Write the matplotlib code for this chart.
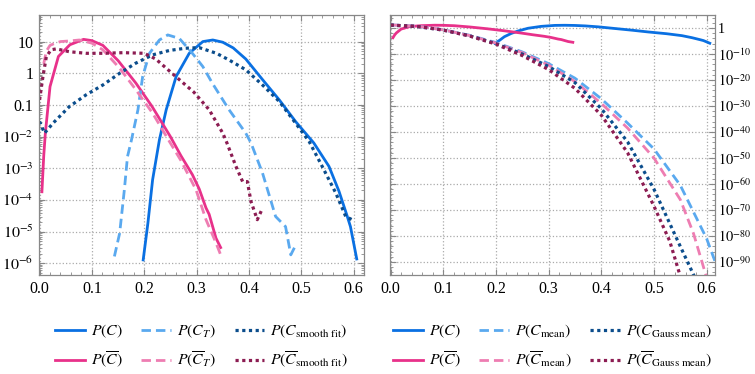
import numpy as np
import matplotlib
matplotlib.use("Agg")
import matplotlib.pyplot as plt
from matplotlib.ticker import FixedLocator, FuncFormatter, MultipleLocator

plt.rcParams['font.family'] = ['Liberation Serif', 'DejaVu Serif']
plt.rcParams['mathtext.fontset'] = 'stix'
plt.rcParams['font.size'] = 11

### Data (x, log10 of probability density) ###

# left panel
pc_x = [0.198, 0.207, 0.216, 0.229, 0.242, 0.261, 0.286, 0.312, 0.331, 0.35, 0.37, 0.394, 0.426,
        0.458, 0.489, 0.524, 0.553, 0.572, 0.588, 0.594, 0.606]
pc_log = [-5.89, -4.73, -3.36, -2.1, -1.15, -0.1, 0.63, 1.0, 1.05, 0.98, 0.8, 0.45, -0.2,
          -0.84, -1.52, -2.2, -2.94, -3.72, -4.52, -4.84, -5.86]

pct_x = [0.143, 0.153, 0.162, 0.168, 0.175, 0.188, 0.197, 0.21, 0.229, 0.245, 0.267, 0.292,
         0.312, 0.33, 0.362, 0.394, 0.404, 0.426, 0.451, 0.47, 0.48, 0.488]
pct_log = [-5.78, -5.05, -3.68, -2.63, -2.15, -1.15, -0.1, 0.63, 1.05, 1.21, 1.1, 0.63,
           0.21, -0.31, -1.15, -1.89, -2.2, -3.15, -4.52, -4.84, -5.73, -5.47]

psm_x = [0.0, 0.0095, 0.026, 0.057, 0.089, 0.121, 0.153, 0.184, 0.216, 0.248, 0.279, 0.305,
         0.338, 0.362, 0.394, 0.426, 0.458, 0.489, 0.515, 0.54, 0.566, 0.585, 0.597]
psm_log = [-1.52, -1.89, -1.57, -1.05, -0.68, -0.37, 0.0, 0.32, 0.58, 0.72, 0.79, 0.81,
           0.63, 0.42, 0.11, -0.37, -0.89, -1.57, -2.15, -2.94, -3.78, -4.52, -4.62]

pcb_x = [0.0045, 0.008, 0.011, 0.02, 0.036, 0.058, 0.084, 0.1, 0.121, 0.15, 0.184, 0.215,
         0.25, 0.27, 0.292, 0.305, 0.318, 0.324, 0.337, 0.346]
pcb_log = [-3.74, -2.6, -1.9, -0.42, 0.53, 0.9, 1.07, 1.03, 0.88, 0.4, -0.31, -1.05,
           -2.0, -2.6, -3.2, -3.65, -4.25, -4.45, -5.2, -5.5]

pcbt_x = [0.008, 0.013, 0.02, 0.03, 0.04, 0.057, 0.076, 0.1, 0.121, 0.153, 0.184, 0.216,
          0.248, 0.27, 0.299, 0.318, 0.337, 0.346]
pcbt_log = [0.3, 0.7, 0.88, 0.95, 1.0, 1.02, 1.05, 0.95, 0.74, 0.16, -0.52, -1.26,
            -2.15, -2.75, -3.68, -4.62, -5.35, -5.73]

psmb_x = [0.0, 0.0065, 0.013, 0.022, 0.032, 0.057, 0.089, 0.121, 0.16, 0.2, 0.222, 0.26,
          0.295, 0.324, 0.35, 0.358, 0.375, 0.388, 0.397, 0.404, 0.416, 0.426]
psmb_log = [-0.84, -0.1, 0.53, 0.74, 0.77, 0.68, 0.63, 0.63, 0.65, 0.63, 0.45, -0.1,
            -0.6, -1.15, -1.89, -2.2, -2.93, -3.42, -3.42, -4.05, -4.62, -4.26]

# right panel
mean_x = [0.0, 0.05, 0.1, 0.15, 0.2, 0.25, 0.3, 0.35, 0.4, 0.45, 0.5, 0.55, 0.6, 0.62]
pmean_log = [1.2, 0.7, -0.7, -2.8, -5.6, -9.2, -13.7, -19.3, -27.2, -36.6, -46.5, -60.5, -81, -92]

pmeanb_x = [0.0, 0.05, 0.1, 0.15, 0.2, 0.25, 0.3, 0.35, 0.4, 0.45, 0.5, 0.55, 0.575, 0.6]
pmeanb_log = [1.2, 0.7, -0.7, -2.9, -5.8, -9.5, -14.3, -20.6, -29, -38.5, -50, -66, -79, -96]

gauss_x = [0.0, 0.05, 0.1, 0.15, 0.2, 0.25, 0.3, 0.35, 0.4, 0.45, 0.5, 0.55, 0.58]
pgauss_log = [1.1, 0.6, -0.8, -3.0, -6.0, -10, -14.8, -21, -31, -43.8, -62, -84, -97]

gaussb_x = [0.0, 0.05, 0.1, 0.15, 0.2, 0.25, 0.3, 0.35, 0.4, 0.45, 0.5, 0.53, 0.55]
pgaussb_log = [1.1, 0.6, -0.8, -3.1, -6.2, -10.6, -16, -23.2, -33.5, -48, -68.5, -82, -95.5]

### Styles ###
c_blue = '#0a70e2'
c_lblue = '#5aa9ef'
c_dblue = '#0b4d8c'
c_pink = '#e8318a'
c_lpink = '#ee7db2'
c_maroon = '#8c1c52'
dot = (0, (1, 1.1))
dash = (0, (3.4, 1.8))


def style_axes(ax):
    ax.set_yscale('log')
    ax.grid(True, which='major', linestyle=':', color='#aaaaaa', linewidth=0.9)
    ax.xaxis.set_major_locator(MultipleLocator(0.1))
    ax.xaxis.set_minor_locator(MultipleLocator(0.02))
    ax.xaxis.set_major_formatter(FuncFormatter(lambda v, p: f"{v:.1f}"))
    ax.tick_params(which='both', direction='in', top=True, bottom=True, left=True, right=True,
                   color='#888888', labelsize=11.5, pad=4)
    ax.tick_params(which='major', length=4.5)
    ax.tick_params(which='minor', length=2.5)
    for s in ax.spines.values():
        s.set_color('#888888')
        s.set_linewidth(0.9)


def left_fmt(v, p):
    e = int(round(np.log10(v)))
    if e == 1:
        return "10"
    if e == 0:
        return "1"
    if e == -1:
        return "0.1"
    return f"$10^{{{e}}}$"


def right_fmt(v, p):
    e = int(round(np.log10(v)))
    if e == 0:
        return "1"
    return f"$10^{{{e}}}$"


fig = plt.figure(figsize=(7.55, 3.74), dpi=100)
ax1 = fig.add_axes([0.0517, 0.2647, 0.4305, 0.6952])
ax2 = fig.add_axes([0.5166, 0.2647, 0.4305, 0.6952])

lw = 2.0
ax1.plot(pc_x, 10.0 ** np.array(pc_log), color=c_blue, lw=lw, label=r'$P(C)$')
ax1.plot(pcb_x, 10.0 ** np.array(pcb_log), color=c_pink, lw=lw, label=r'$P(\overline{C})$')
ax1.plot(pct_x, 10.0 ** np.array(pct_log), color=c_lblue, lw=lw, ls=dash, label=r'$P(C_T)$')
ax1.plot(pcbt_x, 10.0 ** np.array(pcbt_log), color=c_lpink, lw=lw, ls=dash, label=r'$P(\overline{C}_T)$')
ax1.plot(psm_x, 10.0 ** np.array(psm_log), color=c_dblue, lw=2.3, ls=dot,
         label=r'$P(C_{\mathrm{smooth\ fit}})$')
ax1.plot(psmb_x, 10.0 ** np.array(psmb_log), color=c_maroon, lw=2.3, ls=dot,
         label=r'$P(\overline{C}_{\mathrm{smooth\ fit}})$')

style_axes(ax1)
ax1.set_xlim(-0.001, 0.62)
ax1.set_ylim(4.3e-7, 69)
ax1.yaxis.set_major_locator(FixedLocator(10.0 ** np.arange(-6, 2)))
ax1.yaxis.set_minor_locator(FixedLocator([m * 10.0 ** e for e in range(-7, 2) for m in range(2, 10)]))
ax1.yaxis.set_major_formatter(FuncFormatter(left_fmt))
ax1.yaxis.set_minor_formatter(FuncFormatter(lambda v, p: ""))

ax2.plot(pc_x, 10.0 ** np.array(pc_log), color=c_blue, lw=lw, label=r'$P(C)$')
ax2.plot(pcb_x, 10.0 ** np.array(pcb_log), color=c_pink, lw=lw, label=r'$P(\overline{C})$')
ax2.plot(mean_x, 10.0 ** np.array(pmean_log), color=c_lblue, lw=lw, ls=dash,
         label=r'$P(C_{\mathrm{mean}})$')
ax2.plot(pmeanb_x, 10.0 ** np.array(pmeanb_log), color=c_lpink, lw=lw, ls=dash,
         label=r'$P(\overline{C}_{\mathrm{mean}})$')
ax2.plot(gauss_x, 10.0 ** np.array(pgauss_log), color=c_dblue, lw=2.3, ls=dot,
         label=r'$P(C_{\mathrm{Gauss\ mean}})$')
ax2.plot(gaussb_x, 10.0 ** np.array(pgaussb_log), color=c_maroon, lw=2.3, ls=dot,
         label=r'$P(\overline{C}_{\mathrm{Gauss\ mean}})$')

style_axes(ax2)
ax2.set_xlim(-0.001, 0.616)
ax2.set_ylim(1e-95, 1e5)
ax2.yaxis.set_major_locator(FixedLocator(10.0 ** np.arange(-90, 1, 10)))
ax2.yaxis.set_minor_locator(FixedLocator(10.0 ** np.arange(-96, 6, 2)))
ax2.yaxis.set_major_formatter(FuncFormatter(right_fmt))
ax2.yaxis.set_minor_formatter(FuncFormatter(lambda v, p: ""))
ax2.tick_params(axis='y', which='both', labelleft=False, labelright=True, labelsize=10.3, pad=2)

for ax in (ax1, ax2):
    ax.legend(loc='upper center', bbox_to_anchor=(0.5, -0.13), ncol=3, frameon=False,
              fontsize=11.3, handlelength=1.9, columnspacing=1.2, labelspacing=0.6,
              handletextpad=0.35)

plt.savefig("out.png", dpi=100)
